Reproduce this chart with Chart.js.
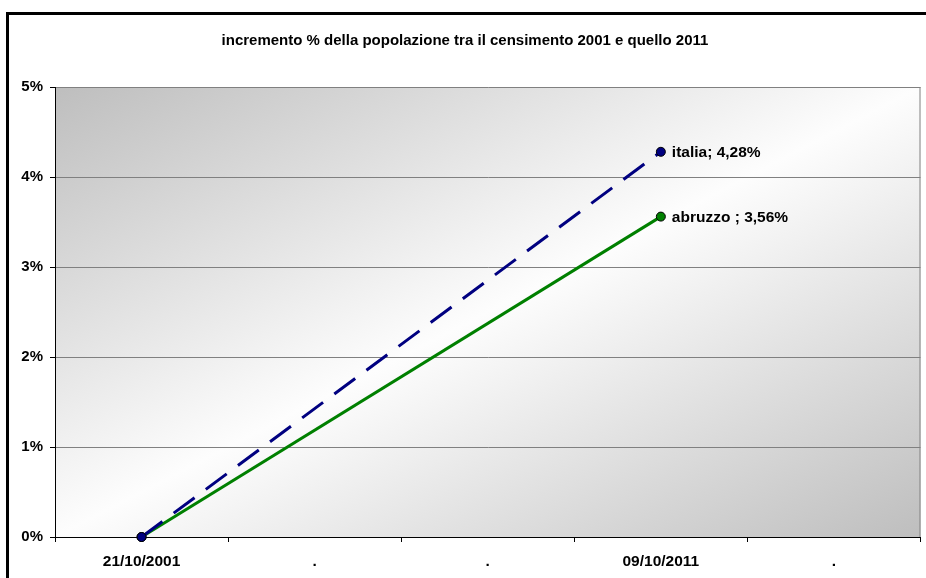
<!DOCTYPE html>
<html>
<head>
<meta charset="utf-8">
<script src="https://cdn.jsdelivr.net/npm/chart.js@4"></script>
<style>
  body { margin: 0; background: #fff; }
  #wrap { width: 926px; height: 578px; }
</style>
</head>
<body>
<div id="wrap"><canvas id="myChart" width="926" height="578"></canvas></div>
<script>
    // data
    var categories = ['21/10/2001', '.', '.', '09/10/2011', '.'];
    var italiaValues = [0, null, null, 4.28, null];
    var abruzzoValues = [0, null, null, 3.56, null];
    var seriesNames = ['italia', 'abruzzo '];
    var chartTitle = 'incremento % della popolazione tra il censimento 2001 e quello 2011';

    var FONT = "'Liberation Sans', Arial, sans-serif";

    // frame, title, gradient plot background
    var backgroundPlugin = {
        id: 'bg',
        beforeDraw: function(chart) {
            var c = chart.ctx, a = chart.chartArea;
            c.save();
            c.fillStyle = '#fff';
            c.fillRect(0, 0, chart.width, chart.height);
            c.lineWidth = 3;
            c.strokeStyle = '#000';
            c.strokeRect(7.5, 13.5, 960, 620);
            c.font = 'bold 15px ' + FONT;
            c.fillStyle = '#000';
            c.textAlign = 'center';
            c.textBaseline = 'middle';
            c.fillText(chartTitle, 465, 41);
            // diagonal gradient, iso lines parallel to the other diagonal
            c.translate(a.left, a.top);
            c.scale(a.right - a.left, a.bottom - a.top);
            var g = c.createLinearGradient(0, 0, 1, 1);
            g.addColorStop(0, '#bebebe');
            g.addColorStop(0.5, '#fdfdfd');
            g.addColorStop(1, '#bebebe');
            c.fillStyle = g;
            c.fillRect(0, 0, 1, 1);
            c.restore();
        },
        afterDatasetsDraw: function(chart) {
            var c = chart.ctx, a = chart.chartArea;
            c.save();
            c.strokeStyle = '#808080';
            c.lineWidth = 1;
            c.beginPath();
            c.moveTo(a.right - 0.5, a.top);
            c.lineTo(a.right - 0.5, a.bottom);
            c.stroke();
            c.font = 'bold 15.5px ' + FONT;
            c.fillStyle = '#000';
            c.textAlign = 'left';
            c.textBaseline = 'middle';
            chart.data.datasets.forEach(function(ds, i) {
                var meta = chart.getDatasetMeta(i);
                var idx = 3;
                var pt = meta.data[idx];
                var txt = seriesNames[i] + '; ' + ds.data[idx].toFixed(2).replace('.', ',') + '%';
                c.fillText(txt, pt.x + 11, pt.y + 1);
            });
            c.restore();
        }
    };

    var ctx = document.getElementById('myChart').getContext('2d');
    var chart = new Chart(ctx, {
        type: 'line',
        data: {
            labels: categories,
            datasets: [{
                label: seriesNames[0],
                data: italiaValues,
                borderColor: '#000080',
                backgroundColor: '#000080',
                borderWidth: 3,
                borderDash: [26, 14],
                spanGaps: true,
                clip: false,
                pointRadius: 4.5,
                pointBorderWidth: 1,
                pointBorderColor: '#000',
                pointBackgroundColor: '#000080'
            }, {
                label: seriesNames[1],
                data: abruzzoValues,
                borderColor: '#008000',
                backgroundColor: '#008000',
                borderWidth: 3,
                spanGaps: true,
                clip: false,
                pointRadius: 4.5,
                pointBorderWidth: 1,
                pointBorderColor: '#000',
                pointBackgroundColor: '#008000'
            }]
        },
        options: {
            responsive: false,
            animation: false,
            layout: { padding: { left: 0, right: 3, top: 87, bottom: 0 } },
            plugins: {
                legend: { display: false },
                title: { display: false },
                tooltip: { enabled: false }
            },
            scales: {
                x: {
                    offset: true,
                    afterFit: function(axis) { axis.height = 41; },
                    grid: {
                        offset: true,
                        drawOnChartArea: false,
                        drawTicks: true,
                        tickLength: 5,
                        color: '#000'
                    },
                    border: { color: '#000', width: 1 },
                    ticks: {
                        color: '#000',
                        padding: 10,
                        maxRotation: 0,
                        autoSkip: false,
                        font: { family: FONT, size: 15.5, weight: 'bold' }
                    }
                },
                y: {
                    min: 0,
                    max: 5,
                    afterFit: function(axis) { axis.width = 55; },
                    grid: {
                        color: '#808080',
                        tickColor: '#000',
                        tickLength: 5
                    },
                    border: { color: '#000', width: 1 },
                    ticks: {
                        stepSize: 1,
                        color: '#000',
                        padding: 7,
                        font: { family: FONT, size: 15, weight: 'bold' },
                        callback: function(v) { return v + '%'; }
                    }
                }
            }
        },
        plugins: [backgroundPlugin]
    });
</script>
</body>
</html>
